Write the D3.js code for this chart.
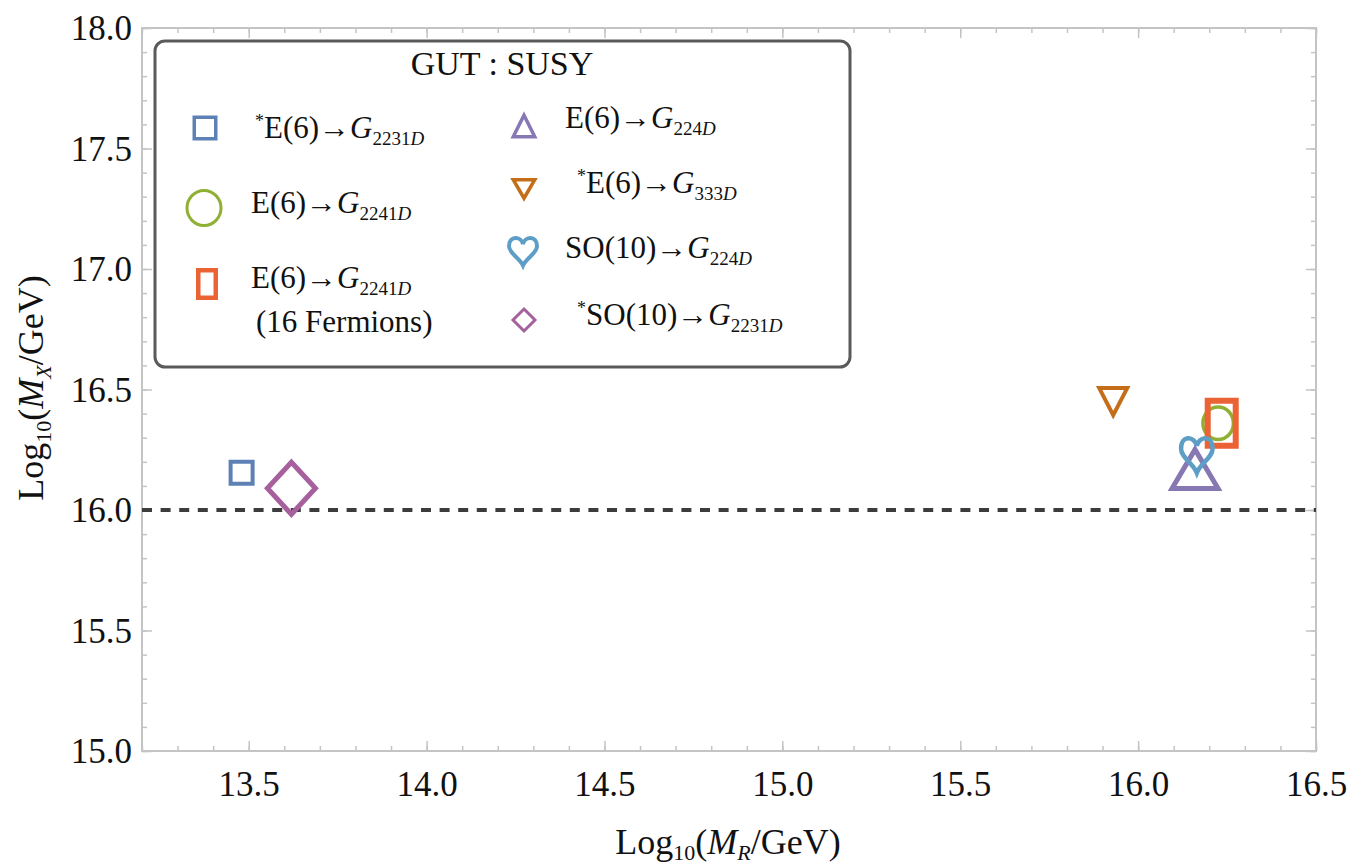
<!DOCTYPE html>
<html>
<head>
<meta charset="utf-8">
<script src="https://cdn.jsdelivr.net/npm/d3@7"></script>
<style>
body { margin: 0; background: #fff; }
text { font-family: "Liberation Serif", "DejaVu Serif", serif; fill: #111; }
</style>
</head>
<body>
<script>
// data, in plotting order
let gut = ["E(6)", "E(6)", "E(6)", "E(6)", "E(6)", "SO(10)", "SO(10)"]
let starred = [true, false, false, false, true, false, true]
let subgroup = ["2231", "2241", "2241", "224", "333", "224", "2231"]
let note = ["", "", "(16 Fermions)", "", "", "", ""]
let logMR = [13.48, 16.225, 16.235, 16.16, 15.93, 16.165, 13.62]
let logMX = [16.155, 16.36, 16.36, 16.17, 16.45, 16.23, 16.09]
let xTicks = [13.5, 14.0, 14.5, 15.0, 15.5, 16.0, 16.5]
let yTicks = [15.0, 15.5, 16.0, 16.5, 17.0, 17.5, 18.0]
let gutScale = 16.0

// look
let marks = [
    { shape: "square", color: "#5E81B5", w: 26, h: 26, sw: 4, lw: 25, lh: 25, lsw: 3.5 },
    { shape: "circle", color: "#8FB032", w: 34, h: 36, sw: 3.5, lw: 37, lh: 38, lsw: 3 },
    { shape: "square", color: "#EB6235", w: 34, h: 51, sw: 6, lw: 22, lh: 32, lsw: 4.5 },
    { shape: "up", color: "#8778B3", w: 51, h: 44, sw: 5, lw: 25, lh: 25, lsw: 3.5 },
    { shape: "down", color: "#C56E1A", w: 32, h: 31, sw: 4, lw: 25, lh: 22, lsw: 3.5 },
    { shape: "heart", color: "#5D9EC7", w: 36, h: 41, sw: 4.5, lw: 32, lh: 33, lsw: 4 },
    { shape: "diamond", color: "#A5609D", w: 53, h: 57, sw: 5, lw: 25, lh: 25, lsw: 3 }
]
// legend slots: marker x/y, text x/baseline
let slots = [
    { mx: 205, my: 128, tx: 255, ty: 138 },
    { mx: 204, my: 208, tx: 251, ty: 213 },
    { mx: 207, my: 284, tx: 251, ty: 288 },
    { mx: 524, my: 126, tx: 565, ty: 128 },
    { mx: 524, my: 189, tx: 577, ty: 193 },
    { mx: 523, my: 251, tx: 565, ty: 258 },
    { mx: 524, my: 320, tx: 577, ty: 325 }
]

let W = 1356, H = 867

let svg = d3.select("body")
    .append("svg")
    .attr("width", W)
    .attr("height", H)

svg.append("rect").attr("width", W).attr("height", H).attr("fill", "#fff")

let x = d3.scaleLinear().domain([13.2, 16.5]).range([142, 1316])
let y = d3.scaleLinear().domain([15, 18]).range([751, 28])

let frameCol = "#c4c4c4"
let serif = '"Liberation Serif", "DejaVu Serif", serif'
let xMinor = d3.range(13.2, 16.51, 0.1).map(v => +v.toFixed(1))
let yMinor = d3.range(15, 18.01, 0.1).map(v => +v.toFixed(1))

function styleAxis(g) {
    g.select(".domain").remove()
    g.selectAll(".tick line").attr("stroke", frameCol).attr("stroke-width", 1.5)
}

// minor ticks on all four sides
svg.append("g").attr("transform", "translate(0,751)")
    .call(d3.axisBottom(x).tickValues(xMinor).tickSize(-5).tickFormat(""))
    .call(styleAxis)
svg.append("g").attr("transform", "translate(0,28)")
    .call(d3.axisTop(x).tickValues(xMinor).tickSize(-5).tickFormat(""))
    .call(styleAxis)
svg.append("g").attr("transform", "translate(142,0)")
    .call(d3.axisLeft(y).tickValues(yMinor).tickSize(-5).tickFormat(""))
    .call(styleAxis)
svg.append("g").attr("transform", "translate(1316,0)")
    .call(d3.axisRight(y).tickValues(yMinor).tickSize(-5).tickFormat(""))
    .call(styleAxis)

// major ticks
let fmt = d3.format(".1f")
let xb = svg.append("g").attr("transform", "translate(0,751)")
    .call(d3.axisBottom(x).tickValues(xTicks).tickSize(-10).tickFormat(fmt))
    .call(styleAxis)
xb.selectAll(".tick text").attr("y", 45).attr("dy", null)
    .attr("font-size", 35).style("font-family", serif).attr("fill", "#111")
svg.append("g").attr("transform", "translate(0,28)")
    .call(d3.axisTop(x).tickValues(xTicks).tickSize(-10).tickFormat(""))
    .call(styleAxis)
let yl = svg.append("g").attr("transform", "translate(142,0)")
    .call(d3.axisLeft(y).tickValues(yTicks).tickSize(-10).tickPadding(10).tickFormat(fmt))
    .call(styleAxis)
yl.selectAll(".tick text").attr("dy", "0.34em")
    .attr("font-size", 35).style("font-family", serif).attr("fill", "#111")
svg.append("g").attr("transform", "translate(1316,0)")
    .call(d3.axisRight(y).tickValues(yTicks).tickSize(-10).tickFormat(""))
    .call(styleAxis)

// frame
svg.append("rect")
    .attr("x", x(13.2)).attr("y", y(18))
    .attr("width", x(16.5) - x(13.2)).attr("height", y(15) - y(18))
    .attr("fill", "none").attr("stroke", frameCol).attr("stroke-width", 2)

// dashed 10^16 line
svg.append("line")
    .attr("x1", x(13.2)).attr("x2", x(16.5))
    .attr("y1", y(gutScale)).attr("y2", y(gutScale))
    .attr("stroke", "#3c3c3c").attr("stroke-width", 4)
    .attr("stroke-dasharray", "10 8.6")

function shape(kind, w, h) {
    let a = w / 2, b = h / 2
    if (kind == "square") return `M${-a},${-b}H${a}V${b}H${-a}Z`
    if (kind == "up") return `M0,${-b}L${a},${b}L${-a},${b}Z`
    if (kind == "down") return `M0,${b}L${a},${-b}L${-a},${-b}Z`
    if (kind == "diamond") return `M0,${-b}L${a},0L0,${b}L${-a},0Z`
    if (kind == "circle") return `M${-a},0A${a},${b} 0 1,0 ${a},0A${a},${b} 0 1,0 ${-a},0Z`
    if (kind == "heart") {
        let p = (u, v) => (u * w).toFixed(2) + "," + (v * h).toFixed(2)
        return `M${p(0, -0.24)}C${p(-0.06, -0.5)} ${p(-0.5, -0.56)} ${p(-0.5, -0.16)}` +
            `C${p(-0.5, 0.08)} ${p(-0.12, 0.24)} ${p(0, 0.5)}` +
            `C${p(0.12, 0.24)} ${p(0.5, 0.08)} ${p(0.5, -0.16)}` +
            `C${p(0.5, -0.56)} ${p(0.06, -0.5)} ${p(0, -0.24)}Z`
    }
}

// points
svg.append("g")
    .selectAll("path")
    .data(d3.range(logMR.length))
    .enter()
    .append("path")
    .attr("transform", i => `translate(${x(logMR[i])},${y(logMX[i])})`)
    .attr("d", i => shape(marks[i].shape, marks[i].w - marks[i].sw, marks[i].h - marks[i].sw))
    .attr("fill", "none")
    .attr("stroke", i => marks[i].color)
    .attr("stroke-width", i => marks[i].sw)
    .attr("stroke-linejoin", "miter")

// legend
let lg = svg.append("g")
lg.append("rect")
    .attr("x", 155).attr("y", 41).attr("width", 695).attr("height", 326)
    .attr("rx", 10)
    .attr("fill", "#fff").attr("stroke", "#5a5a5a").attr("stroke-width", 3)

lg.append("text")
    .attr("x", 502).attr("y", 75)
    .attr("text-anchor", "middle")
    .attr("font-size", 34)
    .text("GUT : SUSY")

d3.range(gut.length).forEach(i => {
    let s = slots[i], m = marks[i]
    lg.append("path")
        .attr("transform", `translate(${s.mx},${s.my})`)
        .attr("d", shape(m.shape, m.lw - m.lsw, m.lh - m.lsw))
        .attr("fill", "none")
        .attr("stroke", m.color)
        .attr("stroke-width", m.lsw)

    let t = lg.append("text")
        .attr("x", s.tx).attr("y", s.ty)
        .attr("font-size", 31)
    if (starred[i]) {
        t.append("tspan").attr("font-size", 18).attr("dy", -11).text("*")
        t.append("tspan").attr("dy", 11).text(gut[i])
    } else {
        t.append("tspan").text(gut[i])
    }
    t.append("tspan").text("\u2192")
    t.append("tspan").attr("font-style", "italic").text("G")
    t.append("tspan").attr("font-size", 19).attr("dy", 7).text(subgroup[i])
    t.append("tspan").attr("font-size", 19).attr("font-style", "italic").text("D")

    if (note[i]) {
        lg.append("text")
            .attr("x", 256).attr("y", s.ty + 44)
            .attr("font-size", 31)
            .text(note[i])
    }
})

// axis titles
let xt = svg.append("text")
    .attr("x", 728).attr("y", 854)
    .attr("text-anchor", "middle")
    .attr("font-size", 36)
xt.append("tspan").text("Log")
xt.append("tspan").attr("font-size", 22).attr("dy", 6).text("10")
xt.append("tspan").attr("dy", -6).text("(")
xt.append("tspan").attr("font-style", "italic").text("M")
xt.append("tspan").attr("font-size", 22).attr("font-style", "italic").attr("dy", 6).text("R")
xt.append("tspan").attr("dy", -6).text("/GeV)")

let ytl = svg.append("text")
    .attr("transform", "translate(43,388) rotate(-90)")
    .attr("text-anchor", "middle")
    .attr("font-size", 36)
ytl.append("tspan").text("Log")
ytl.append("tspan").attr("font-size", 22).attr("dy", 8).text("10")
ytl.append("tspan").attr("dy", -8).text("(")
ytl.append("tspan").attr("font-style", "italic").text("M")
ytl.append("tspan").attr("font-size", 22).attr("font-style", "italic").attr("dy", 8).text("X")
ytl.append("tspan").attr("dy", -8).text("/GeV)")
</script>
</body>
</html>
